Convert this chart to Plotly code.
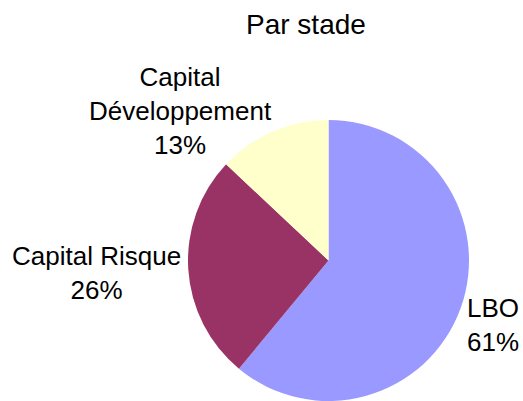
import plotly.graph_objects as go

# data
labels = ["LBO", "Capital Risque", "Capital<br>Développement"]
values = [61, 26, 13]
colors = ["#9999FF", "#993366", "#FFFFCC"]

W, H = 523, 401
FONT = "Liberation Sans, Arial, sans-serif"

fig = go.Figure(go.Pie(
    labels=labels,
    values=values,
    sort=False,
    direction="clockwise",
    rotation=0,
    marker=dict(colors=colors, line=dict(width=0)),
    textinfo="none",
    hoverinfo="label+percent",
    domain=dict(x=[187 / W, 470 / W], y=[0, (H - 120) / H]),
    showlegend=False,
))

# label boxes (pixel centres) for each slice
label_pos = [(493, 325), (96, 273), (180, 111)]
total = sum(values)
for lab, v, (px, py) in zip(labels, values, label_pos):
    fig.add_annotation(
        x=px / W, y=1 - py / H, xref="paper", yref="paper",
        text=f"{lab}<br>{round(100 * v / total)}%",
        showarrow=False, xanchor="center", yanchor="middle",
        font=dict(family=FONT, size=26, color="black"),
    )

fig.add_annotation(
    x=306 / W, y=1 - 24 / H, xref="paper", yref="paper",
    text="Par stade", showarrow=False, xanchor="center", yanchor="middle",
    font=dict(family=FONT, size=28, color="black"),
)

fig.update_layout(
    width=W, height=H,
    margin=dict(l=0, r=0, t=0, b=0),
    paper_bgcolor="white",
    plot_bgcolor="white",
)

# drop the default page margin so the figure sits at the window corner
fig.write_html("out.html", config={"displayModeBar": False},
               post_script="document.body.style.margin='0';")
